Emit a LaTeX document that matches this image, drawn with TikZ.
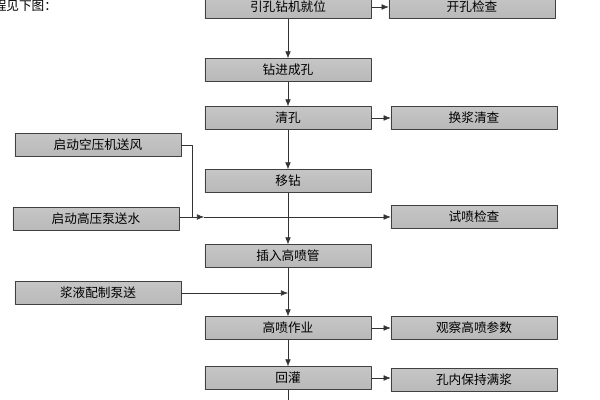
\documentclass[tikz,border=0pt]{standalone}
\usepackage{fontspec}
\setmainfont{Noto Sans CJK SC}
\usetikzlibrary{arrows.meta}

\begin{document}
\begin{tikzpicture}[
        x = 0.025cm, y = -0.025cm,
        line join=round,
        stepbox/.style = {draw=black!75, shading=axis, top color=gray!45, middle color=gray!8, bottom color=gray!55, minimum width=4.15cm, minimum height=0.57cm, inner sep=0pt, font=\fontsize{9}{9}\selectfont},
        flow/.style = {black!80, -{Latex[length=5pt,width=4pt]}}
    ]
        \useasboundingbox (0, 0) rectangle (600, 400);

        \node[anchor=east, font=\fontsize{9}{9}\selectfont] (intro) at (62, 6) {程见下图：};

        \node[stepbox] (yinkong) at (288, 7) {引孔钻机就位};
        \node[stepbox] (kaikong) at (472, 7) {开孔检查};
        \node[stepbox] (zuanjin) at (288, 70) {钻进成孔};
        \node[stepbox] (qingkong) at (288, 118) {清孔};
        \node[stepbox] (huanjiang) at (474, 118) {换浆清查};
        \node[stepbox] (kongya) at (98, 145) {启动空压机送风};
        \node[stepbox] (yizuan) at (288, 181) {移钻};
        \node[stepbox] (gaoya) at (96, 219) {启动高压泵送水};
        \node[stepbox] (shipen) at (474, 217) {试喷检查};
        \node[stepbox] (charu) at (288, 256) {插入高喷管};
        \node[stepbox] (jiangye) at (98, 293) {浆液配制泵送};
        \node[stepbox] (gaopen) at (288, 328) {高喷作业};
        \node[stepbox] (guancha) at (474, 328) {观察高喷参数};
        \node[stepbox] (huiguan) at (288, 378) {回灌};
        \node[stepbox] (mangjiang) at (474, 380) {孔内保持满浆};

        \coordinate (feng) at (192, 217);
        \coordinate (shui) at (204, 217);
        \coordinate (jiang) at (288, 293);
        \coordinate (bottom) at (288, 400);

        \draw[flow] (yinkong) -- (zuanjin);
        \draw[flow] (zuanjin) -- (qingkong);
        \draw[flow] (qingkong) -- (yizuan);
        \draw[flow] (yizuan) -- (charu);
        \draw[flow] (charu) -- (gaopen);
        \draw[flow] (gaopen) -- (huiguan);
        \draw[black!80] (huiguan) -- (bottom);

        \draw[flow] (yinkong) -- (kaikong);
        \draw[flow] (qingkong) -- (huanjiang);
        \draw[flow] (gaopen) -- (guancha);
        \draw[flow] (huiguan.east) -- (mangjiang.west |- huiguan.east);

        \draw[black!80] (kongya.east) -| (feng);
        \draw[flow] (gaoya.east |- feng) -- (shui);
        \draw[flow] (shui) -- (shipen);
        \draw[flow] (jiangye) -- (jiang);
    \end{tikzpicture}
\end{document}
